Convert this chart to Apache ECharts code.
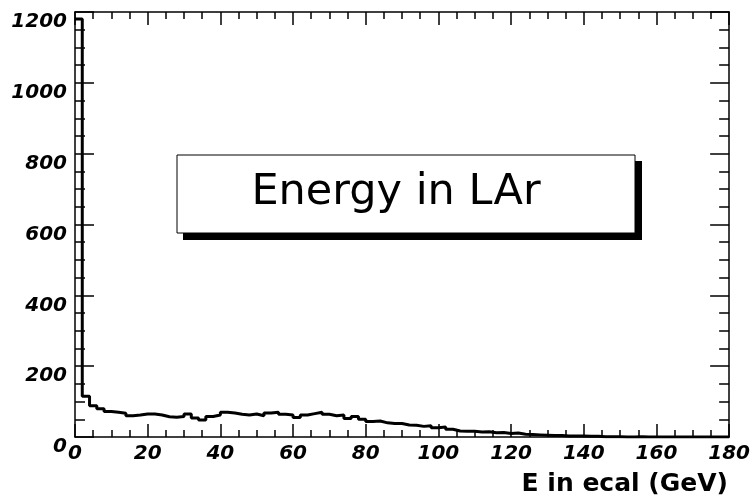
<!DOCTYPE html>
<html>
<head>
<meta charset="utf-8">
<script src="https://cdn.jsdelivr.net/npm/echarts@6/dist/echarts.min.js"></script>
<style>
  html, body { margin: 0; padding: 0; background: #fff; }
  #chart { width: 753px; height: 502px; }
</style>
</head>
<body>
<div id="chart"></div>
<script>
// histogram: 90 bins of 2 GeV from 0 to 180
var binWidth = 2;
var xTicks = [0, 20, 40, 60, 80, 100, 120, 140, 160, 180];
var yTicks = [0, 200, 400, 600, 800, 1000, 1200];
var counts = [
  1180, 115, 88, 80, 72, 70, 67, 60, 62, 65,
  65, 62, 57, 56, 58, 65, 54, 48, 58, 62,
  70, 68, 64, 62, 65, 60, 68, 70, 64, 62,
  55, 62, 66, 70, 64, 60, 62, 52, 58, 50,
  44, 45, 40, 38, 38, 34, 33, 30, 32, 26,
  28, 22, 17, 16, 16, 14, 15, 12, 13, 10,
  11, 8, 7, 6, 5, 4, 4, 3, 3, 3,
  2, 2, 1, 1, 1, 0, 0, 1, 0, 0,
  0, 0, 0, 0, 0, 0, 0, 0, 0, 0
];
var legendText = "Energy in LAr";
var xTitle = "E in ecal (GeV)";

// step points at bin left edges, closing at the last edge
var histData = counts.map(function (c, i) {
  return [i * binWidth, c];
});
histData.push([counts.length * binWidth, counts[counts.length - 1]]);

var labelFont = {
  color: "#000",
  fontFamily: "DejaVu Sans",
  fontWeight: "bold",
  fontStyle: "italic",
  fontSize: 20,
  formatter: function (v) { return String(v); }
};

function xAxisOf(pos, showLabel) {
  return {
    type: "value",
    position: pos,
    min: xTicks[0],
    max: xTicks[xTicks.length - 1],
    interval: xTicks[1] - xTicks[0],
    axisLine: { show: true, onZero: false, lineStyle: { color: "#000", width: 1.5 } },
    axisTick: { show: true, inside: true, length: 13, lineStyle: { color: "#000", width: 1.5 } },
    minorTick: { show: true, splitNumber: 4, length: 7, lineStyle: { color: "#000", width: 1.5 } },
    splitLine: { show: false },
    axisLabel: Object.assign({ show: showLabel, margin: 7 }, labelFont)
  };
}

function yAxisOf(pos, showLabel) {
  return {
    type: "value",
    position: pos,
    min: yTicks[0],
    max: yTicks[yTicks.length - 1],
    interval: yTicks[1] - yTicks[0],
    axisLine: { show: true, onZero: false, lineStyle: { color: "#000", width: 1.5 } },
    axisTick: { show: true, inside: true, length: 19, lineStyle: { color: "#000", width: 1.5 } },
    minorTick: { show: true, splitNumber: 4, length: 10, lineStyle: { color: "#000", width: 1.5 } },
    splitLine: { show: false },
    axisLabel: Object.assign({ show: showLabel, margin: 8, verticalAlign: "top" }, labelFont)
  };
}

var chart = echarts.init(document.getElementById("chart"));
var option = {
  animation: false,
  backgroundColor: "#fff",
  title: {
    text: xTitle,
    right: 25,
    top: 472,
    padding: 0,
    textStyle: { color: "#000", fontFamily: "DejaVu Sans", fontWeight: "bold", fontSize: 25 }
  },
  grid: { left: 75, right: 21, top: 12, bottom: 65 },
  xAxis: [xAxisOf("bottom", true), xAxisOf("top", false)],
  yAxis: [yAxisOf("left", true), yAxisOf("right", false)],
  series: [
    {
      type: "line",
      xAxisIndex: 0,
      yAxisIndex: 0,
      step: "end",
      symbol: "none",
      data: histData,
      lineStyle: { color: "#000", width: 3 }
    }
  ],
  graphic: [
    { type: "rect", shape: { x: 183, y: 161, width: 459, height: 79 }, style: { fill: "#000" } },
    { type: "rect", shape: { x: 177, y: 155, width: 458, height: 78 }, style: { fill: "#fff", stroke: "#000", lineWidth: 1 } },
    {
      type: "text",
      x: 396,
      y: 193,
      style: {
        text: legendText,
        fill: "#000",
        font: "43px 'DejaVu Sans'",
        textAlign: "center",
        textVerticalAlign: "middle"
      }
    }
  ]
};
chart.setOption(option);
</script>
</body>
</html>
